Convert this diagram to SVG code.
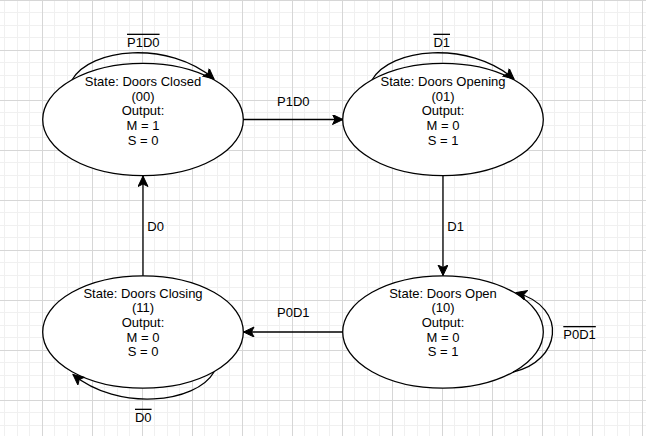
<svg xmlns="http://www.w3.org/2000/svg" width="646" height="436" viewBox="0 0 646 436">
<defs>
<pattern id="grid" x="42" y="0" width="50" height="50" patternUnits="userSpaceOnUse">
<rect x="0" y="0" width="50" height="50" fill="#ffffff"/>
<g fill="#f0f0f0">
<rect x="12" y="0" width="1" height="50"/>
<rect x="25" y="0" width="1" height="50"/>
<rect x="37" y="0" width="1" height="50"/>
<rect x="0" y="12" width="50" height="1"/>
<rect x="0" y="25" width="50" height="1"/>
<rect x="0" y="37" width="50" height="1"/>
</g>
<g fill="#d6d6d6">
<rect x="0" y="0" width="1" height="50"/>
<rect x="0" y="0" width="50" height="1"/>
</g>
</pattern>
<marker id="arr" markerWidth="14" markerHeight="12" refX="11" refY="5" orient="auto" markerUnits="userSpaceOnUse" viewBox="0 0 14 12">
<path d="M11 5 L0.5 0 L3 5 L0.5 10 Z" fill="#000" stroke="#000" stroke-width="1" stroke-linejoin="miter"/>
</marker>
</defs>
<style>
.st{fill:#fff;stroke:#000;stroke-width:1.3}
.t{font-family:"Liberation Sans",Arial,sans-serif;font-size:13px;fill:#000;text-anchor:middle}
.lb{font-family:"Liberation Sans",Arial,sans-serif;font-size:13px;fill:#000}
.ov{text-decoration:overline}
.e{fill:none;stroke:#000;stroke-width:1.3;marker-end:url(#arr)}
</style>
<rect x="0" y="0" width="646" height="436" fill="url(#grid)"/>

<g id="node-closed">
<ellipse class="st" cx="143" cy="119.5" rx="100.3" ry="56.2"/>
<text class="t" x="143" y="86">State: Doors Closed</text>
<text class="t" x="143" y="100.7">(00)</text>
<text class="t" x="143" y="115.4">Output:</text>
<text class="t" x="143" y="130.1">M = 1</text>
<text class="t" x="143" y="144.8">S = 0</text>
</g>

<g id="node-opening">
<ellipse class="st" cx="443" cy="119.5" rx="100.3" ry="56.2"/>
<text class="t" x="443" y="86">State: Doors Opening</text>
<text class="t" x="443" y="100.7">(01)</text>
<text class="t" x="443" y="115.4">Output:</text>
<text class="t" x="443" y="130.1">M = 0</text>
<text class="t" x="443" y="144.8">S = 1</text>
</g>

<g id="node-open">
<ellipse class="st" cx="443" cy="332" rx="100.3" ry="56.2"/>
<text class="t" x="443" y="297.7">State: Doors Open</text>
<text class="t" x="443" y="312.4">(10)</text>
<text class="t" x="443" y="327.1">Output:</text>
<text class="t" x="443" y="341.8">M = 0</text>
<text class="t" x="443" y="356.4">S = 1</text>
</g>

<g id="node-closing">
<ellipse class="st" cx="143" cy="332" rx="100.3" ry="56.2"/>
<text class="t" x="143" y="297.7">State: Doors Closing</text>
<text class="t" x="143" y="312.4">(11)</text>
<text class="t" x="143" y="327.1">Output:</text>
<text class="t" x="143" y="341.8">M = 0</text>
<text class="t" x="143" y="356.4">S = 0</text>
</g>

<g id="connectors">
<path class="e" d="M243.3 119.5 H343"/>
<text class="t" x="293.3" y="105.7">P1D0</text>
<path class="e" d="M443 175.7 V275.5"/>
<text class="lb" x="447.3" y="231">D1</text>
<path class="e" d="M342.7 332 H243.5"/>
<text class="t" x="293.3" y="317">P0D1</text>
<path class="e" d="M143 275.7 V176"/>
<text class="lb" x="147.3" y="231">D0</text>

<path class="e" d="M72 80 C90 48 168 40 214 79"/>
<text class="t ov" x="143.3" y="46.7">P1D0</text>
<path class="e" d="M372 80 C390 48 468 40 514 79"/>
<text class="t ov" x="441.7" y="46.7">D1</text>
<path class="e" d="M513 372 C560 362 570 308 516 292.5"/>
<text class="lb ov" x="563.3" y="339">P0D1</text>
<path class="e" d="M214 372 C196 403.5 118 411.5 73 374.5"/>
<text class="t ov" x="143.3" y="421.7">D0</text>
</g>
</svg>
